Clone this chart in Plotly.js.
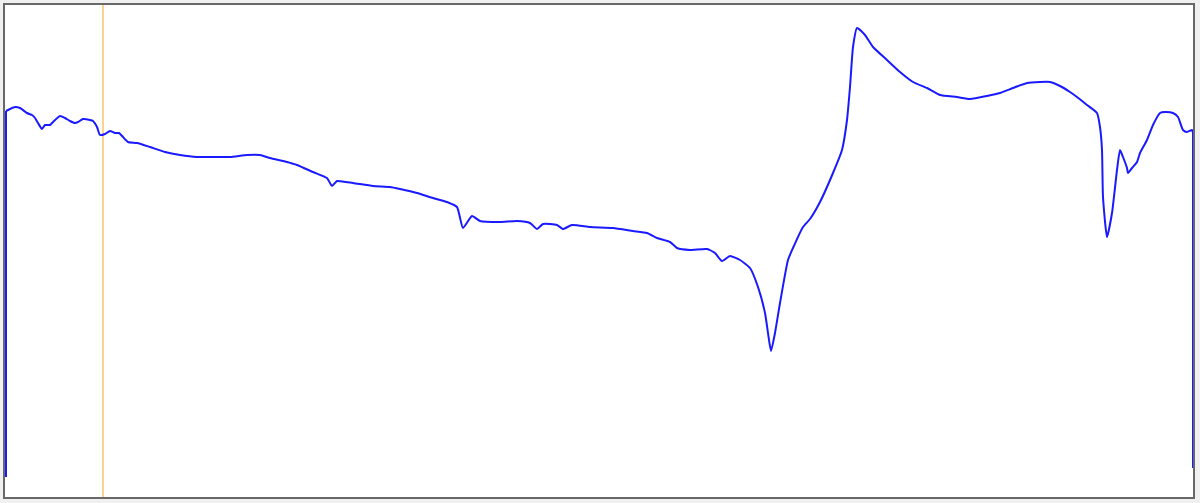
<!DOCTYPE html>
<html>
<head>
<meta charset="utf-8">
<script src="https://cdn.plot.ly/plotly-3.0.1.min.js"></script>
<style>html,body{margin:0;padding:0;background:#f0f0f0;}#chart{width:1200px;height:503px;}</style>
</head>
<body>
<div id="chart"></div>
<script>
// Channel positions (x) and signal values (y)
const channel = [2,2,6,11,16,23,28,31,34,38,41,46,49,56,61,66,71,74,79,86,89,93,96,101,106,111,115,119,124,133,146,161,176,193,209,226,243,256,266,283,293,309,323,328,333,349,369,386,396,413,429,443,453,459,468,476,496,513,526,533,539,553,559,568,586,609,629,643,653,666,673,686,703,711,718,726,736,746,754,761,764,767,771,776,784,789,799,806,816,829,838,843,846,849,853,861,869,883,896,909,923,936,953,966,983,996,1009,1023,1036,1046,1056,1066,1073,1083,1093,1096,1098,1099,1103,1108,1113,1116,1119,1123,1124,1128,1133,1136,1143,1149,1156,1161,1169,1174,1179,1183,1188,1189,1189];
const signal = [21,387,389,391,390,385,383,380,375,369,373,373,376,382,380,377,375,376,379,378,377,371,363,364,367,365,365,361,356,355,351,346,343,341,341,341,343,343,340,336,333,326,320,312,317,315,312,311,309,305,300,296,291,270,282,277,276,277,275,269,274,273,269,273,271,270,267,265,260,256,250,248,249,245,237,242,238,230,211,185,165,147,165,195,238,250,271,279,296,325,348,378,411,451,470,463,451,438,426,416,410,403,401,399,402,405,410,415,416,416,412,406,401,393,385,371,348,301,261,285,328,348,341,330,325,330,336,345,358,373,385,386,385,381,368,366,368,365,30];
const cursorChannel = 99;
const xRange = [0, 1190];
const yRange = [0, 494];

const n = channel.length;
const blue = '#1a1aff';
const traces = [
  {x: [cursorChannel, cursorChannel], y: yRange, mode: 'lines', line: {color: '#f9b548', width: 1.2}, hoverinfo: 'skip', showlegend: false},
  // edge drops drawn straight
  {x: channel.slice(0, 2), y: signal.slice(0, 2), mode: 'lines', line: {color: blue, width: 2}, showlegend: false},
  {x: channel.slice(n - 2), y: signal.slice(n - 2), mode: 'lines', line: {color: blue, width: 2}, showlegend: false},
  // main curve
  {x: channel.slice(1, n - 1), y: signal.slice(1, n - 1), mode: 'lines', line: {color: blue, width: 2, shape: 'spline', smoothing: 0.5}, showlegend: false}
];
const layout = {
  width: 1200, height: 503,
  margin: {l: 4, r: 6, t: 4, b: 5, pad: 0},
  paper_bgcolor: '#f0f0f0', plot_bgcolor: '#ffffff',
  xaxis: {range: xRange, visible: false, fixedrange: true},
  yaxis: {range: yRange, visible: false, fixedrange: true},
  shapes: [{type: 'rect', xref: 'paper', yref: 'paper', x0: 0, x1: 1, y0: 0, y1: 1, line: {color: '#686868', width: 2}, layer: 'above'}]
};
Plotly.newPlot('chart', traces, layout, {displayModeBar: false, staticPlot: true});
</script>
</body>
</html>
